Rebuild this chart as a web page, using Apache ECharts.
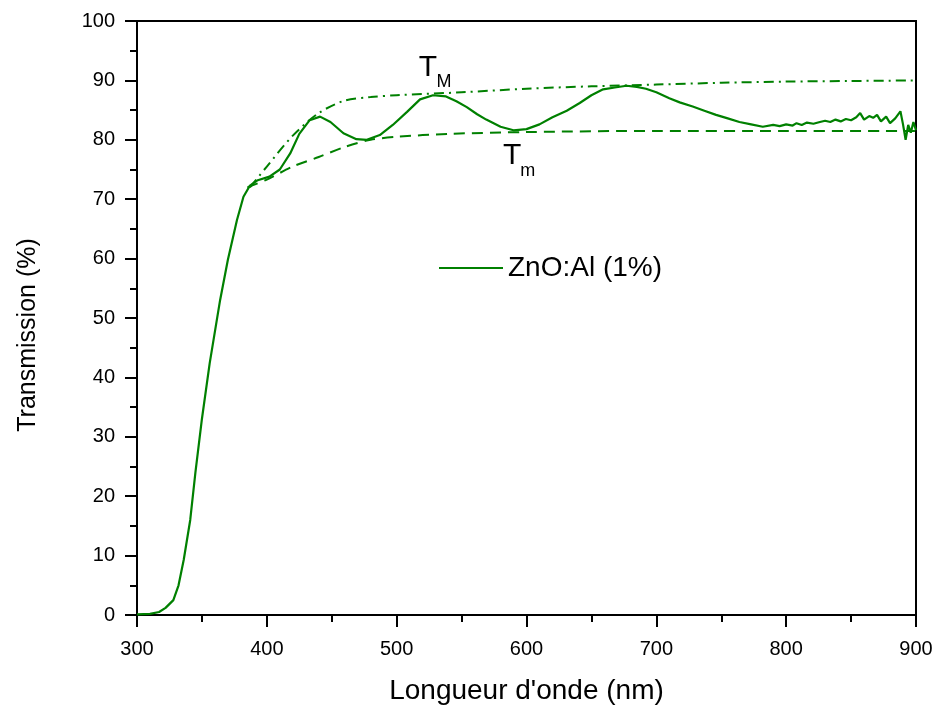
<!DOCTYPE html>
<html>
<head>
<meta charset="utf-8">
<script src="https://cdn.jsdelivr.net/npm/echarts@6/dist/echarts.min.js"></script>
<style>
  html, body { margin: 0; padding: 0; background: #fff; }
  #chart { width: 938px; height: 713px; }
</style>
</head>
<body>
<div id="chart"></div>
<script>
// spectre de transmission ZnO:Al (1%)
const wavelength = [300, 310, 317, 322, 328, 332, 336, 341, 345, 350, 356, 364, 370, 377, 382, 387, 393, 402, 410, 418, 425, 433, 441, 449, 459, 469, 477, 487, 497, 508, 518, 528, 538, 546, 554, 562, 569, 580, 590, 600, 610, 620, 631, 641, 650, 659, 668, 677, 685, 692, 700, 710, 718, 728, 737, 746, 755, 764, 773, 782, 790, 795, 800, 805, 808, 812, 816, 821, 826, 830, 834, 838, 842, 846, 850, 854, 857, 860, 864, 867, 870, 873, 877, 880, 884, 888, 890, 892, 894, 896, 898, 900];
const transmission = [0.1, 0.2, 0.5, 1.2, 2.5, 5, 9.3, 16, 24, 33, 42.4, 53, 59.8, 66.5, 70.4, 72.3, 73.2, 73.8, 75.0, 77.7, 81, 83.3, 83.9, 83.0, 81.1, 80.1, 80.0, 80.8, 82.5, 84.7, 86.8, 87.5, 87.3, 86.5, 85.5, 84.3, 83.4, 82.2, 81.6, 81.8, 82.6, 83.8, 84.9, 86.2, 87.5, 88.5, 88.8, 89.1, 88.9, 88.6, 88.0, 87.0, 86.3, 85.6, 84.9, 84.2, 83.6, 83.0, 82.6, 82.2, 82.5, 82.3, 82.6, 82.4, 82.8, 82.5, 82.9, 82.7, 83.0, 83.2, 83.0, 83.4, 83.1, 83.5, 83.3, 83.8, 84.5, 83.4, 84.0, 83.7, 84.2, 83.1, 83.9, 82.8, 83.6, 84.8, 82.6, 80.0, 82.5, 81.2, 83.0, 81.6];

// enveloppe des maxima (T_M)
const envMaxX = [387, 400, 420, 440, 460, 480, 500, 550, 600, 650, 700, 750, 800, 850, 900];
const envMaxY = [72.0, 75.5, 80.7, 84.5, 86.6, 87.2, 87.5, 88.0, 88.6, 89.0, 89.3, 89.6, 89.8, 89.9, 90.0];

// enveloppe des minima (T_m)
const envMinX = [385, 400, 420, 440, 460, 480, 500, 540, 600, 700, 800, 900];
const envMinY = [72.0, 73.3, 75.5, 77.1, 78.8, 80.0, 80.5, 81.0, 81.3, 81.5, 81.5, 81.5];

// annotations : [texte, longueur d'onde, transmission, taille]
const annotations = [
  ['T', 524, 92.1, 30],
  ['M', 536.5, 89.7, 18],
  ['T', 589, 77.4, 30],
  ['m', 601, 74.7, 18],
];

const seriesName = 'ZnO:Al (1%)';
const green = '#008000';
const font = '"Liberation Sans", Arial, sans-serif';

const pairs = (xs, ys) => xs.map((x, i) => [x, ys[i]]);

const chart = echarts.init(document.getElementById('chart'));

const option = {
  backgroundColor: '#fff',
  animation: false,
  textStyle: { fontFamily: font },
  grid: {
    left: 137,
    right: 22,
    top: 21,
    bottom: 98,
    show: true,
    borderColor: '#000',
    borderWidth: 2,
  },
  legend: {
    data: [seriesName],
    left: 434,
    top: 249,
    icon: 'rect',
    itemWidth: 64,
    itemHeight: 2,
    itemGap: 8,
    textStyle: { fontSize: 28, color: '#000', fontFamily: font },
  },
  xAxis: {
    type: 'value',
    min: 300,
    max: 900,
    interval: 100,
    name: "Longueur d'onde (nm)",
    nameLocation: 'middle',
    nameGap: 62,
    nameTextStyle: { fontSize: 28, color: '#000', fontFamily: font },
    axisLine: { lineStyle: { color: '#000', width: 2 } },
    axisTick: { inside: false, length: 12, lineStyle: { color: '#000', width: 2 } },
    minorTick: { show: true, splitNumber: 2, length: 7, lineStyle: { color: '#000', width: 2 } },
    axisLabel: { fontSize: 20, color: '#000', margin: 24, fontFamily: font },
    splitLine: { show: false },
  },
  yAxis: {
    type: 'value',
    min: 0,
    max: 100,
    interval: 10,
    name: 'Transmission (%)',
    nameLocation: 'middle',
    nameGap: 96,
    nameRotate: 90,
    nameTextStyle: { fontSize: 25, color: '#000', fontFamily: font, padding: [0, 34, 0, 0] },
    axisLine: { lineStyle: { color: '#000', width: 2 } },
    axisTick: { inside: false, length: 12, lineStyle: { color: '#000', width: 2 } },
    minorTick: { show: true, splitNumber: 2, length: 7, lineStyle: { color: '#000', width: 2 } },
    axisLabel: { fontSize: 20, color: '#000', margin: 22, fontFamily: font },
    splitLine: { show: false },
  },
  series: [
    {
      name: seriesName,
      type: 'line',
      data: pairs(wavelength, transmission),
      showSymbol: false,
      symbol: 'none',
      lineStyle: { color: green, width: 2.2 },
      itemStyle: { color: green },
      z: 3,
      markPoint: {
        symbol: 'circle',
        symbolSize: 1,
        itemStyle: { color: 'rgba(0,0,0,0)' },
        data: annotations.map(([txt, x, y, size]) => ({
          coord: [x, y],
          label: {
            show: true,
            position: 'inside',
            formatter: txt,
            fontSize: size,
            color: '#000',
            fontFamily: font,
          },
        })),
      },
    },
    {
      name: 'TM',
      type: 'line',
      data: pairs(envMaxX, envMaxY),
      showSymbol: false,
      symbol: 'none',
      smooth: 0.3,
      lineStyle: { color: green, width: 2, type: [10, 5, 2, 5] },
      z: 2,
    },
    {
      name: 'Tm',
      type: 'line',
      data: pairs(envMinX, envMinY),
      showSymbol: false,
      symbol: 'none',
      smooth: 0.3,
      lineStyle: { color: green, width: 2, type: [11, 7] },
      z: 2,
    },
  ],
};

chart.setOption(option);
</script>
</body>
</html>
